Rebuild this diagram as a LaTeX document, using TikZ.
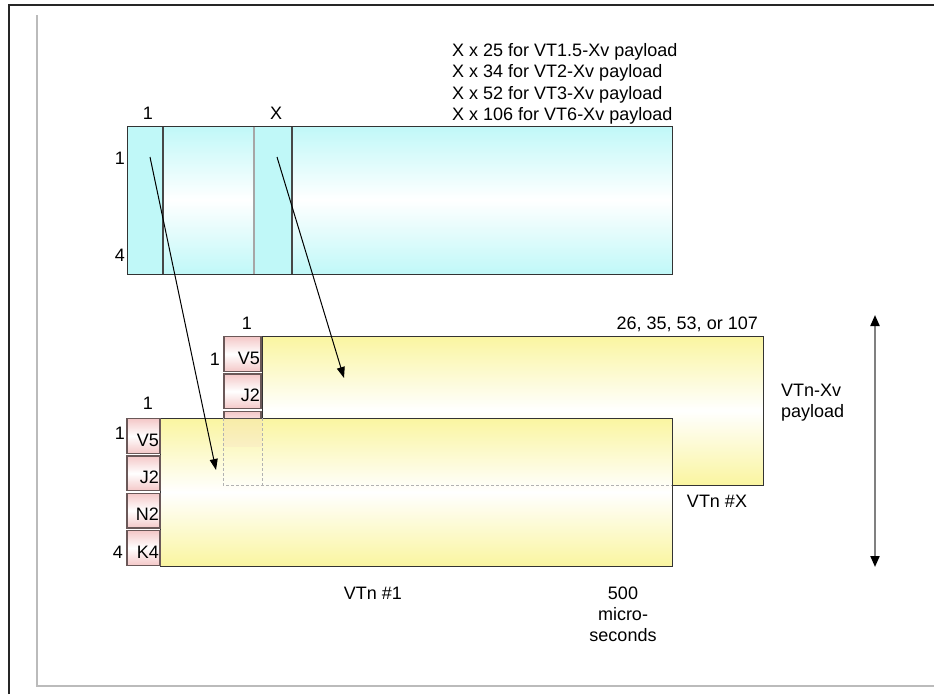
\documentclass[tikz,border=0pt]{standalone}
\usepackage{fontspec}
\setmainfont{Liberation Sans}
\usepackage{tikz}
\usetikzlibrary{positioning, arrows.meta}
\definecolor{vCyan}{HTML}{C0F8F8}
\definecolor{vYellow}{HTML}{FAF5A0}
\definecolor{ohPink}{HTML}{F4C8C8}
\definecolor{nInk}{HTML}{333333}
\definecolor{ohEdge}{HTML}{6A5858}
\definecolor{nLine}{HTML}{808080}
\definecolor{frameGrey}{HTML}{BBBBBB}
\tikzset{
  payload/.style={draw=nInk, line width=1pt, top color=#1, bottom color=#1, middle color=white,
    inner sep=0pt, outer sep=0pt},
  ohbox/.style={draw=ohEdge, line width=1.3pt, top color=ohPink, bottom color=ohPink, middle color=white,
    inner sep=0pt, minimum height=34.5pt,
    label={[anchor=south east, inner sep=1.5pt, yshift=6pt]south east:#1}},
  colfill/.style={fill=vCyan, inner sep=0pt, outer sep=0pt, minimum height=147pt},
  colrule/.style={line width=2.5pt, draw=nInk!90},
  hidden/.style={draw=black!30, line width=0.8pt, dash pattern=on 3pt off 2pt},
  pointer/.style={-{Triangle[length=11pt, width=8pt]}, line width=1pt, black},
}

\begin{document}
\begin{tikzpicture}[x=1pt, y=-1pt, font=\fontsize{18}{21.3}\selectfont, inner sep=0pt]
  \useasboundingbox (0,0) rectangle (934,694);
  \draw[line width=2pt, black!85] (9,694) -- (9,4.5) -- (934,4.5);
  \draw[line width=1.2pt, frameGrey] (37,15) -- (37,686) -- (934,686);

  % VTn #X
  \node[payload=vYellow, minimum width=501pt, minimum height=149pt] (back) at (512.5,410.5) {};
  \node[ohbox=V5, minimum width=37pt] (bk1) at (242.5,354) {};
  \node[ohbox=J2, minimum width=37pt, below=1.5pt of bk1] (bk2) {};
  \node[ohbox=, minimum width=37pt, below=1.5pt of bk2] (bk3) {};

  % VTn #1
  \node[payload=vYellow, minimum width=512pt, minimum height=148pt] (front) at (416,492) {};
  \node[ohbox=V5, minimum width=33pt] (fr1) at (143.5,436) {};
  \node[ohbox=J2, minimum width=33pt, below=1.5pt of fr1] (fr2) {};
  \node[ohbox=N2, minimum width=33pt, below=1.5pt of fr2] (fr3) {};
  \node[ohbox=K4, minimum width=33pt, below=1.5pt of fr3] (fr4) {};

  \fill[ohPink, opacity=0.18] (bk3.west |- front.north) rectangle (bk3.south east);
  \draw[hidden] (bk3.west |- front.north) -- (bk3.west |- back.south) -- (front.east |- back.south);
  \draw[hidden] (back.west |- front.north) -- (back.south west);

  % top frame
  \node[payload=vCyan, minimum width=545pt, minimum height=148pt] (frame) at (399.5,200) {};
  \node[colfill, minimum width=35.5pt] (col1) at (145.25,200) {};
  \node[colfill, minimum width=38pt] (colX) at (273,200) {};
  \draw[colrule] (col1.north east) -- (col1.south east);
  \draw[colrule, draw=nLine!70] (colX.north west) -- (colX.south west);
  \draw[colrule] (colX.north east) -- (colX.south east);

  \foreach \cnt/\kind [count=\i] in {25/VT1.5, 34/VT2, 52/VT3, 106/VT6}
    \node[anchor=base west] (mult\i) at (452,{56.5+21.3*(\i-1)}) {X x \cnt\ for \kind-Xv payload};
  \node[anchor=base] (topc1) at (148,119.5) {1};
  \node[anchor=base] (topcX) at (276,119.5) {X};
  \node[anchor=base] (toprow1) at (120,164.5) {1};
  \node[anchor=base] (toprow4) at (120,261.5) {4};

  \node[anchor=base] (bkc1) at (247,329.5) {1};
  \node[anchor=base] (bkrow1) at (215,365) {1};
  \node[anchor=base east] (bkcn) at (758,329.5) {26, 35, 53, or 107};
  \node[anchor=north west, align=left] (vtxv) at (781,383.5) {VTn-Xv\\payload};
  \node[anchor=base] (tagX) at (717,507.5) {VTn \#X};

  \node[anchor=base] (frc1) at (148,409.5) {1};
  \node[anchor=base] (frrow1) at (120,439.5) {1};
  \node[anchor=base] (frrow4) at (118,558.5) {4};
  \node[anchor=base] (tag1) at (373,599.5) {VTn \#1};
  \node[anchor=north, align=center] (dur) at (623,586.5) {500\\micro-\\seconds};

  \coordinate (p1) at (150,157);
  \coordinate (q1) at (216,470);
  \coordinate (p2) at (277,157);
  \coordinate (q2) at (344,378);
  \draw[pointer] (p1) -- (q1);
  \draw[pointer] (p2) -- (q2);

  \coordinate (spanTop) at (875,315);
  \coordinate (spanBot) at (875,567);
  \draw[nLine, line width=2pt, {Triangle[black, length=11pt, width=9pt]}-{Triangle[black, length=11pt, width=9pt]}] (spanTop) -- (spanBot);
\end{tikzpicture}
\end{document}
